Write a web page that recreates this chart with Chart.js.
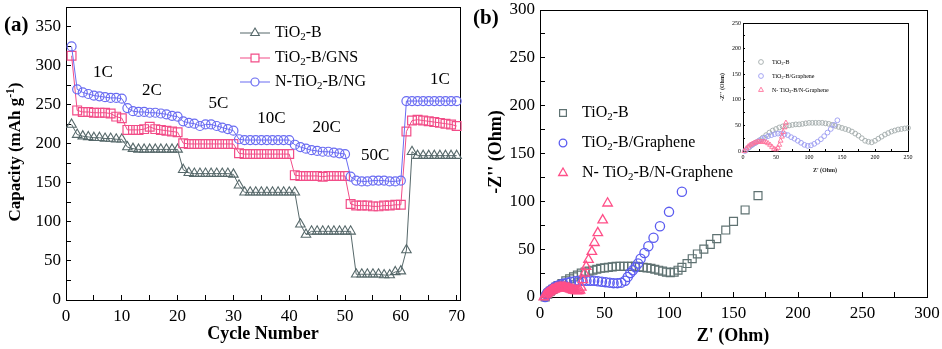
<!DOCTYPE html>
<html lang="en">
<head>
<meta charset="UTF-8">
<title>TiO2-B rate capability and Nyquist plots</title>
<script src="https://cdn.jsdelivr.net/npm/chart.js"></script>
<style>
  body { margin: 0; background: #fff; }
  #wrap { position: relative; width: 942px; height: 349px; }
  canvas { position: absolute; top: 0; }
</style>
</head>
<body>
<div id="wrap">
  <canvas id="rateChart" width="470" height="349" style="left:0"></canvas>
  <canvas id="eisChart" width="472" height="349" style="left:470px"></canvas>
  <canvas id="insetChart" width="230" height="180" style="left:700px"></canvas>
</div>
<script>
// ---- panel (a): capacity vs cycle number ----
const cycles = [1,2,3,4,5,6,7,8,9,10,11,12,13,14,15,16,17,18,19,20,21,22,23,24,25,26,27,28,29,30,
  31,32,33,34,35,36,37,38,39,40,41,42,43,44,45,46,47,48,49,50,51,52,53,54,55,56,57,58,59,60,
  61,62,63,64,65,66,67,68,69,70];
const capTiO2B = [225,212,210,209,208,208,207,207,206,206, 196,194,193,193,193,193,193,193,193,193,
  167,163,162,162,162,162,162,162,162,161, 147,138,138,138,138,138,138,138,138,138,
  138,97,84,88,88,88,88,88,88,88, 88,33,33,33,33,33,32,32,36,37, 64,190,185,185,185,185,185,185,185,185];
const capGNS = [313,243,241,241,240,240,240,239,235,233, 218,218,218,219,222,219,218,217,216,215,
  201,200,200,200,200,200,200,200,200,200, 188,187,187,187,187,187,187,187,187,187,
  160,159,159,159,159,158,159,159,159,159, 123,121,121,121,120,120,121,121,122,122,
  216,230,231,230,229,228,227,226,225,223];
const capNG = [325,270,266,264,262,261,260,259,259,258, 246,242,241,241,240,240,239,238,236,235,
  229,227,226,223,225,225,223,221,219,217, 206,205,205,205,205,205,205,205,205,205,
  199,196,194,192,191,190,190,189,188,187, 158,153,152,152,153,153,153,152,152,153,
  255,255,255,255,255,255,255,255,255,255];
const rateNames = ['1C','2C','5C','10C','20C','50C','1C'];
const rateAtCycle = [6.6, 15.4, 27.3, 36.8, 46.7, 55.4, 67];
const rateAtCap = [291, 269, 252, 233, 221, 185, 283];

// ---- panel (b): Nyquist plots ----
const zreTiO2B = [4,6,8,10,12,14,17,20,23,26,29,32,35,38,41,44,47,50,53,56,59,62,65,68,71,74,77,80,83,86,89,92,95,98,101,104,107,110,114,118,122,127,132,137,144,150,159,169];
const zimTiO2B = [0,3,6,8,10,12,14,17,19,21,23,25,26,27,28,29,30,30.5,31,31.5,32,32,32,32,32,32,31.5,31,30.5,30,29,28,27,26,25.5,26,28,31,35,40,45,50,55,61,70,79,91,106];
const zreGr = [4,5,6,8,10,12,14,16,18,21,24,27,30,33,36,39,42,45,48,51,54,57,60,63,66,68,70,72,74,76,78,81,84,88,93,100,110];
const zimGr = [0,3,5,7,9,11,12,13,14,15,16,16.5,17,17,17,17,17,16.5,16,15.5,15,14.5,14.5,15,17,21,25,28,31,35,40,46,53,62,74,89,110];
const zreNG = [3,4,5,6,7,8,9,10,11,12,13,14,15,16,17,18,19,20,21,22,23,24,25,26,27,28,29,30,31,32,33.2,34.5,35.8,37.6,40.2,42.2,44.8,48.6,52.4];
const zimNG = [0,2,3,4,5,6,7,7.5,8,8.5,9,9.5,9.5,10,10,10,9.5,9.5,9,9,8.5,8,7.5,7,7,6.5,6.5,6.5,7,10,17.8,24.7,31.7,39,47.4,56.7,67,80.4,98];

// ---- inset ----
const inZreTiO2B = [5,10,15,20,25,30,35,40,45,50,55,60,65,70,75,80,85,90,95,100,105,110,115,120,125,130,135,140,145,150,155,160,165,170,175,180,185,190,195,200,205,210,215,220,225,230,235,240,245,250];
const inZimTiO2B = [2,8,13,17,21,26,31,36,40,43,46,48,49,50,51,52,52,53,54,55,55,55,55,55,54,53,51,49,47,45,43,41,38,34,30,25,20,18,17,20,24,28,32,35,38,40,42,43,44,45];
const inZreGr = [3,8,13,18,23,28,33,38,43,48,53,58,63,68,73,78,83,88,93,98,103,108,113,118,123,128,133,138,143];
const inZimGr = [0,6,11,15,19,23,26,29,31,33,34,34,33,31,27,24,20,16,12,10,11,14,18,23,29,36,43,51,60];
const inZreNG = [2,5,8,11,14,17,20,23,26,29,32,35,38,41,44,47,50,53,55,57,59,61,63,65];
const inZimNG = [0,5,9,12,14,16,17,18,18,18,18,17,15,12,8,4,3,6,12,20,28,37,46,55];

const serif = "'Liberation Serif', 'Times New Roman', serif";

// text with _{sub} and ^{sup}
function parseRich(str) {
  const parts = [];
  const re = /([_^])\{([^}]*)\}/g;
  let last = 0, m;
  while ((m = re.exec(str))) {
    if (m.index > last) parts.push([str.slice(last, m.index), '']);
    parts.push([m[2], m[1]]);
    last = re.lastIndex;
  }
  if (last < str.length) parts.push([str.slice(last), '']);
  return parts;
}

function drawRich(ctx, str, x, y, size, weight, align) {
  const parts = parseRich(str);
  const fontFor = p => `${weight} ${p[1] ? size * 0.68 : size}px ${serif}`;
  let total = 0;
  parts.forEach(p => { ctx.font = fontFor(p); total += ctx.measureText(p[0]).width; });
  let cx = align === 'center' ? x - total / 2 : x;
  ctx.textAlign = 'left';
  ctx.textBaseline = 'middle';
  parts.forEach(p => {
    ctx.font = fontFor(p);
    const dy = p[1] === '_' ? size * 0.28 : p[1] === '^' ? -size * 0.3 : 0;
    ctx.fillText(p[0], cx, y + dy);
    cx += ctx.measureText(p[0]).width;
  });
}

function pairs(xs, ys) {
  return xs.map((x, i) => ({ x: x, y: ys[i] }));
}

function decoPlugin(draw) {
  return { id: 'deco', afterDraw(chart) { draw(chart); } };
}

function legendItems(chart, items, withLine) {
  const ctx = chart.ctx;
  ctx.save();
  items.forEach(it => {
    const ds = chart.data.datasets[it.index];
    if (withLine) {
      ctx.fillStyle = ds.borderColor;
      ctx.fillRect(it.mx - it.lineHalf, it.y - 0.5, it.lineHalf * 2, 1);
    }
    ctx.strokeStyle = ds.borderColor;
    ctx.fillStyle = '#fff';
    ctx.lineWidth = ds.pointBorderWidth;
    Chart.helpers.drawPoint(ctx, {
      pointStyle: ds.pointStyle, radius: it.r, borderWidth: ds.pointBorderWidth, rotation: 0
    }, it.mx, it.y);
    ctx.fillStyle = '#000';
    drawRich(ctx, it.text, it.tx, it.y, it.size, 'normal', 'left');
  });
  ctx.restore();
}

// fixed box size, no extra room for overhanging labels
function fixedScale(w, h) {
  return s => {
    if (w != null) s.width = w;
    if (h != null) s.height = h;
    s.paddingLeft = 0; s.paddingRight = 0; s.paddingTop = 0; s.paddingBottom = 0;
  };
}

// main axis: labels every `major`, inward tick marks every `minor`
function axis(pos, min, max, major, minor, w, h, pad, size, lineW, tickLen) {
  return {
    type: 'linear', position: pos, min: min, max: max, afterFit: fixedScale(w, h),
    border: { display: true, color: '#000', width: lineW },
    grid: { display: true, drawOnChartArea: false, drawTicks: true, tickLength: -tickLen,
      color: '#000', lineWidth: 1 },
    ticks: { stepSize: minor, autoSkip: false, includeBounds: false, maxRotation: 0, padding: pad + tickLen,
      color: '#000', font: { family: serif, size: size },
      callback: v => (v % major === 0 ? v : '') }
  };
}
// opposite side of the box: a bare line
function edge(pos, min, max, lineW, isX) {
  return {
    type: 'linear', position: pos, min: min, max: max, display: true,
    afterFit: isX ? fixedScale(null, 0) : fixedScale(0, null),
    border: { display: true, color: '#000', width: lineW },
    grid: { display: false, drawTicks: false },
    ticks: { display: false }
  };
}

const baseOpts = {
  responsive: false,
  animation: false,
  devicePixelRatio: 1,
  events: []
};
const noPlugins = { legend: { display: false }, tooltip: { enabled: false } };

// ----- chart (a) -----
const colGrey = '#56686a', colPink = '#f24d88', colBlue = '#6a6cf2';
new Chart(document.getElementById('rateChart'), {
  type: 'scatter',
  data: {
    datasets: [
      { label: 'N-TiO2-B/NG', data: pairs(cycles, capNG), showLine: true, borderColor: colBlue,
        backgroundColor: 'rgba(0,0,0,0)', borderWidth: 1, pointStyle: 'circle', pointRadius: 4.5,
        pointBorderWidth: 1.2, clip: false },
      { label: 'TiO2-B/GNS', data: pairs(cycles, capGNS), showLine: true, borderColor: colPink,
        backgroundColor: 'rgba(0,0,0,0)', borderWidth: 1, pointStyle: 'rect', pointRadius: 6.2,
        pointBorderWidth: 1.2, clip: false },
      { label: 'TiO2-B', data: pairs(cycles, capTiO2B), showLine: true, borderColor: colGrey,
        backgroundColor: 'rgba(0,0,0,0)', borderWidth: 1, pointStyle: 'triangle', pointRadius: 5.5,
        pointBorderWidth: 1.1, clip: false }
    ]
  },
  options: Object.assign({}, baseOpts, {
    layout: { padding: { left: 0, right: 10, top: 5, bottom: 0 } },
    scales: {
      x: axis('bottom', 0, 70.6, 10, 5, null, 49, 6, 17, 1, 5),
      y: axis('left', 0, 375, 50, 25, 66, null, 5, 17, 1, 5),
      xTop: edge('top', 0, 70.6, 1, true),
      yRight: edge('right', 0, 375, 1, false)
    },
    plugins: noPlugins
  }),
  plugins: [
    decoPlugin(chart => {
      const ctx = chart.ctx, sx = chart.scales.x, sy = chart.scales.y;
      ctx.save();
      ctx.fillStyle = '#000';
      drawRich(ctx, '(a)', 4, 26, 21, 'bold', 'left');
      rateNames.forEach((t, i) => {
        drawRich(ctx, t, sx.getPixelForValue(rateAtCycle[i]), sy.getPixelForValue(rateAtCap[i]), 17, 'normal', 'center');
      });
      drawRich(ctx, 'Cycle Number', 263, 334, 18, 'bold', 'center');
      ctx.translate(16, 152);
      ctx.rotate(-Math.PI / 2);
      drawRich(ctx, 'Capacity (mAh g^{-1})', 0, 0, 17, 'bold', 'center');
      ctx.restore();
      legendItems(chart, [
        { index: 2, text: 'TiO_{2}-B', mx: 255, lineHalf: 15, y: 33, tx: 275, r: 5, size: 16 },
        { index: 1, text: 'TiO_{2}-B/GNS', mx: 255, lineHalf: 15, y: 58, tx: 275, r: 5.6, size: 16 },
        { index: 0, text: 'N-TiO_{2}-B/NG', mx: 255, lineHalf: 15, y: 82, tx: 275, r: 4, size: 16 }
      ], true);
    })
  ]
});

// ----- chart (b) -----
const colSq = '#5f7272', colCirc = '#5b5cf0', colTri = '#ff4f88';
new Chart(document.getElementById('eisChart'), {
  type: 'scatter',
  data: {
    datasets: [
      { label: 'N- TiO2-B/N-Graphene', data: pairs(zreNG, zimNG), borderColor: colTri,
        backgroundColor: 'rgba(0,0,0,0)', pointStyle: 'triangle', pointRadius: 5.5, pointBorderWidth: 1.3, clip: false },
      { label: 'TiO2-B/Graphene', data: pairs(zreGr, zimGr), borderColor: colCirc,
        backgroundColor: 'rgba(0,0,0,0)', pointStyle: 'circle', pointRadius: 4.6, pointBorderWidth: 1.3, clip: false },
      { label: 'TiO2-B', data: pairs(zreTiO2B, zimTiO2B), borderColor: colSq,
        backgroundColor: 'rgba(0,0,0,0)', pointStyle: 'rect', pointRadius: 5.6, pointBorderWidth: 1.2, clip: false }
    ]
  },
  options: Object.assign({}, baseOpts, {
    layout: { padding: { left: 0, right: 15, top: 10, bottom: 0 } },
    scales: {
      x: axis('bottom', 0, 300, 50, 25, null, 52, 6, 17, 1, 5),
      y: axis('left', 0, 300, 50, 25, 70, null, 5, 17, 1, 5),
      xTop: edge('top', 0, 300, 1, true),
      yRight: edge('right', 0, 300, 1, false)
    },
    plugins: noPlugins
  }),
  plugins: [
    decoPlugin(chart => {
      const ctx = chart.ctx;
      ctx.save();
      ctx.fillStyle = '#000';
      drawRich(ctx, '(b)', 3, 19, 21, 'bold', 'left');
      drawRich(ctx, "Z' (Ohm)", 263, 336, 18, 'bold', 'center');
      ctx.translate(26, 152);
      ctx.rotate(-Math.PI / 2);
      drawRich(ctx, "-Z'' (Ohm)", 0, 0, 18, 'bold', 'center');
      ctx.restore();
      legendItems(chart, [
        { index: 2, text: 'TiO_{2}-B', mx: 93, y: 113, tx: 112, r: 4.8, size: 16 },
        { index: 1, text: 'TiO_{2}-B/Graphene', mx: 93, y: 143, tx: 112, r: 3.8, size: 16 },
        { index: 0, text: 'N- TiO_{2}-B/N-Graphene', mx: 93, y: 173, tx: 112, r: 5, size: 16 }
      ], false);
    })
  ]
});

// ----- inset -----
new Chart(document.getElementById('insetChart'), {
  type: 'scatter',
  data: {
    datasets: [
      { label: 'N- TiO2-B/N-Graphene', data: pairs(inZreNG, inZimNG), borderColor: '#ff6f9a',
        backgroundColor: 'rgba(0,0,0,0)', pointStyle: 'triangle', pointRadius: 2.8, pointBorderWidth: 0.9, clip: false },
      { label: 'TiO2-B/Graphene', data: pairs(inZreGr, inZimGr), borderColor: '#9c9cf2',
        backgroundColor: 'rgba(0,0,0,0)', pointStyle: 'circle', pointRadius: 2.4, pointBorderWidth: 0.9, clip: false },
      { label: 'TiO2-B', data: pairs(inZreTiO2B, inZimTiO2B), borderColor: '#a3acac',
        backgroundColor: 'rgba(0,0,0,0)', pointStyle: 'circle', pointRadius: 2.4, pointBorderWidth: 0.9, clip: false }
    ]
  },
  options: Object.assign({}, baseOpts, {
    layout: { padding: { left: 0, right: 22, top: 23, bottom: 0 } },
    scales: {
      x: axis('bottom', 0, 250, 50, 25, null, 29, 3, 6, 1, 2),
      y: axis('left', 0, 250, 50, 25, 43, null, 2, 6, 1, 2),
      xTop: edge('top', 0, 250, 1, true),
      yRight: edge('right', 0, 250, 1, false)
    },
    plugins: noPlugins
  }),
  plugins: [
    decoPlugin(chart => {
      const ctx = chart.ctx;
      ctx.save();
      ctx.fillStyle = '#222';
      drawRich(ctx, "Z' (Ohm)", 125, 170, 6, 'bold', 'center');
      ctx.translate(22, 87);
      ctx.rotate(-Math.PI / 2);
      drawRich(ctx, "-Z'' (Ohm)", 0, 0, 6, 'bold', 'center');
      ctx.restore();
      legendItems(chart, [
        { index: 2, text: 'TiO_{2}-B', mx: 61, y: 62, tx: 72, r: 2.4, size: 6 },
        { index: 1, text: 'TiO_{2}-B/Graphene', mx: 61, y: 76, tx: 72, r: 2.4, size: 6 },
        { index: 0, text: 'N- TiO_{2}-B/N-Graphene', mx: 61, y: 90, tx: 72, r: 2.8, size: 6 }
      ], false);
    })
  ]
});
</script>
</body>
</html>
